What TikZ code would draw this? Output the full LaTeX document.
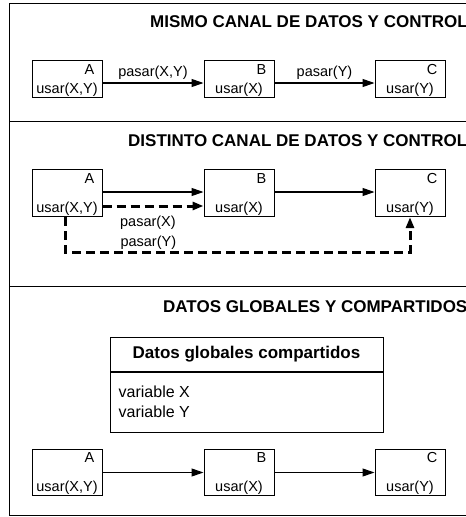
\documentclass[tikz,border=0pt]{standalone}
\usepackage{fontspec}
\setmainfont{Liberation Sans}
\usetikzlibrary{arrows.meta,positioning}
\tikzset{modulo/.style={draw, line width=1pt, minimum width=70pt, inner sep=0pt},
	letra/.style={anchor=base east, inner sep=0pt, font=\fontsize{14.5}{17}\selectfont},
	uso/.style={anchor=base, inner sep=0pt, font=\fontsize{14.5}{17}\selectfont},
	etiq/.style={inner sep=0pt, font=\fontsize{14.5}{17}\selectfont},
	titulo/.style={anchor=base west, inner sep=0pt, font=\fontsize{17}{20}\selectfont\bfseries},
	flecha/.style={-{Triangle[length=12pt,width=8pt]}, line width=1.1pt},
	traza/.style={-{Triangle[length=11pt,width=8pt]}, line width=3pt, dash pattern=on 9pt off 5pt}}

\begin{document}
\begin{tikzpicture}[x=1pt,y=-1pt]
	\clip (0,0) rectangle (466,517);
	% marco
	\draw[line width=1pt] (9,3) rectangle (480,515);
	\draw[line width=1pt] (9,121) -- (480,121);
	\draw[line width=1pt] (9,286) -- (480,286);
	
	% mismo canal
	\node[titulo] (t1) at (150,27.3) {MISMO CANAL DE DATOS Y CONTROL};
	\node[modulo, minimum height=37pt] (A1) at (67,79.3) {};
	\node[modulo, minimum height=37pt, right=101pt of A1] (B1) {};
	\node[modulo, minimum height=37pt, right=100pt of B1] (C1) {};
	\draw[flecha] ([yshift=-3.7pt]A1.east) -- node[etiq, above=3pt] (p1) {pasar(X,Y)} ([yshift=-3.7pt]B1.west);
	\draw[flecha] ([yshift=-3.7pt]B1.east) -- node[etiq, above=3pt] (p2) {pasar(Y)} ([yshift=-3.7pt]C1.west);
	
	% distinto canal
	\node[titulo] (t2) at (128,146.7) {DISTINTO CANAL DE DATOS Y CONTROL};
	\node[modulo, minimum height=46.7pt] (A2) at (67,193.3) {};
	\node[modulo, minimum height=46.7pt, right=101pt of A2] (B2) {};
	\node[modulo, minimum height=46.7pt, right=100pt of B2] (C2) {};
	\draw[flecha] ([yshift=1.3pt]A2.east) -- ([yshift=1.3pt]B2.west);
	\draw[flecha] ([yshift=1.3pt]B2.east) -- ([yshift=1.3pt]C2.west);
	\draw[traza] ([yshift=-12.7pt]A2.east) -- node[etiq, pos=0.45, below=8pt] (p3) {pasar(X)} ([yshift=-12.7pt]B2.west);
	\draw[traza] ([xshift=-1.3pt]A2.south) -- ++(0,35.3)
		-| node[etiq, pos=0.12, above=1pt] (p4) {pasar(Y)} (C2.south);
	
	% datos globales
	\node[titulo] (t3) at (163,312.7) {DATOS GLOBALES Y COMPARTIDOS};
	\node[modulo, minimum width=273pt, minimum height=34pt,
		font=\fontsize{17}{20}\selectfont\bfseries] (glob) at (246.5,354) {Datos globales compartidos};
	\node[modulo, minimum width=273pt, minimum height=60pt, anchor=north] (vars) at (glob.south) {};
	\node[anchor=north west, inner sep=0pt, align=left, font=\fontsize{16}{20}\selectfont]
		(varstxt) at ([xshift=9pt,yshift=-14pt]vars.north west) {variable X\\variable Y};
	\node[modulo, minimum height=46.7pt] (A3) at (67,472.5) {};
	\node[modulo, minimum height=46.7pt, right=101pt of A3] (B3) {};
	\node[modulo, minimum height=46.7pt, right=100pt of B3] (C3) {};
	\draw[flecha] (A3) -- (B3);
	\draw[flecha] (B3) -- (C3);
	
	% textos de los modulos
	\foreach \m/\l/\u in {A1/A/{usar(X,Y)}, B1/B/{usar(X)}, C1/C/{usar(Y)},
		A2/A/{usar(X,Y)}, B2/B/{usar(X)}, C2/C/{usar(Y)},
		A3/A/{usar(X,Y)}, B3/B/{usar(X)}, C3/C/{usar(Y)}}{
		\node[letra] (\m-l) at ([xshift=-8pt,yshift=-14pt]\m.north east) {\l};
		\node[uso] (\m-u) at ([yshift=5pt]\m.south) {\u};
	}
\end{tikzpicture}
\end{document}
